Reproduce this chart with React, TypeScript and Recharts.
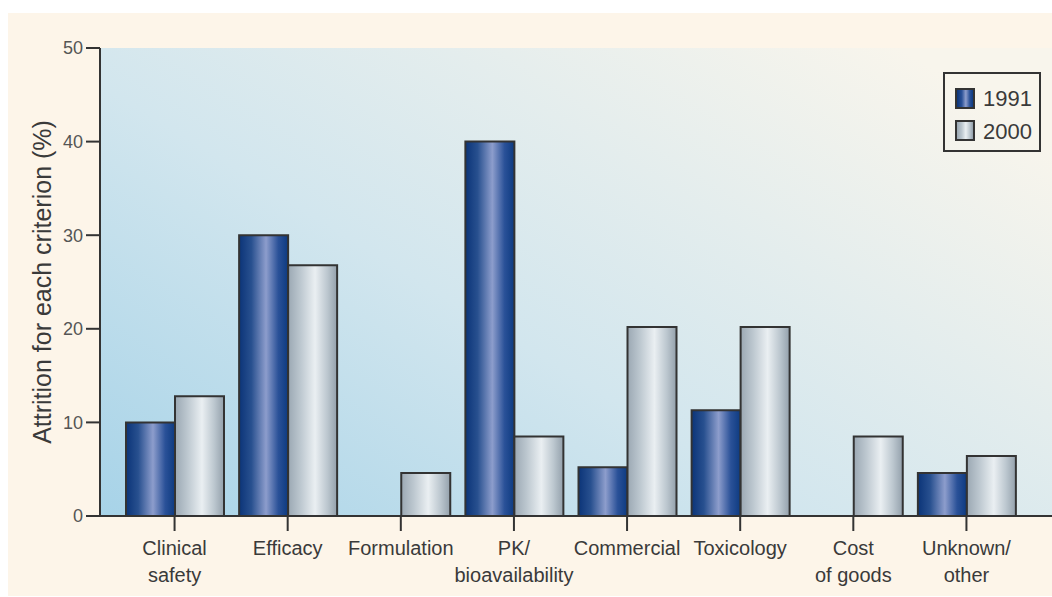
import React from 'react';
import { BarChart, Bar, XAxis, YAxis, CartesianGrid } from 'recharts';

const categories = [
  'Clinical\nsafety',
  'Efficacy',
  'Formulation',
  'PK/\nbioavailability',
  'Commercial',
  'Toxicology',
  'Cost\nof goods',
  'Unknown/\nother',
];
const values1991 = [10, 30, 0, 40, 5.2, 11.3, 0, 4.6];
const values2000 = [12.8, 26.8, 4.6, 8.5, 20.2, 20.2, 8.5, 6.4];
const yTicks = [0, 10, 20, 30, 40, 50];

const data = categories.map((name, i) => ({
  name,
  y1991: values1991[i],
  y2000: values2000[i],
}));

const FONT = '"Liberation Sans", Arial, Helvetica, sans-serif';
const INK = '#333333';

const CategoryTick = (props: any) => {
  const { x, y, payload } = props;
  const lines = String(payload.value).split('\n');
  return (
    <g>
      {lines.map((line, i) => (
        <text
          key={i}
          x={x}
          y={y}
          dy={22 + i * 27}
          textAnchor="middle"
          fill="#3a3a3a"
          fontSize={20}
          fontFamily={FONT}
        >
          {line}
        </text>
      ))}
    </g>
  );
};

const swatch = (bg: string): React.CSSProperties => ({
  display: 'inline-block',
  width: 16,
  height: 17,
  border: `2px solid ${INK}`,
  background: bg,
  marginRight: 8,
  verticalAlign: 'middle',
});

const grad1991 =
  'linear-gradient(to right, #0b3478, #2a5198 30%, #8d9dcc 55%, #2a5198 80%, #0d3a80)';
const grad2000 =
  'linear-gradient(to right, #9ba8b3, #bcc7cf 30%, #eaeff2 55%, #bcc7cf 80%, #93a0ab)';

const App: React.FC = () => {
  return (
    <>
      <style>{'html,body{margin:0;padding:0;overflow:hidden;background:#fff}'}</style>
      <div
        style={{
          position: 'relative',
          width: 1044,
          height: 583,
          marginLeft: 8,
          marginTop: 13,
          background: '#fdf5e9',
          fontFamily: FONT,
        }}
      >
        <BarChart
          width={1044}
          height={583}
          data={data}
          margin={{ top: 35, right: 0, left: 0, bottom: 0 }}
          barGap={0}
        >
          <defs>
            <linearGradient id="plotBg" x1="0" y1="1" x2="1" y2="0.2">
              <stop offset="0%" stopColor="#a7d3e8" />
              <stop offset="45%" stopColor="#d2e6ee" />
              <stop offset="100%" stopColor="#f8f5ec" />
            </linearGradient>
            <linearGradient id="bar1991" x1="0" y1="0" x2="1" y2="0">
              <stop offset="0%" stopColor="#0b3478" />
              <stop offset="25%" stopColor="#28508f" />
              <stop offset="55%" stopColor="#8d9dcc" />
              <stop offset="80%" stopColor="#2a5198" />
              <stop offset="100%" stopColor="#0d3a80" />
            </linearGradient>
            <linearGradient id="bar2000" x1="0" y1="0" x2="1" y2="0">
              <stop offset="0%" stopColor="#9ba8b3" />
              <stop offset="25%" stopColor="#bcc7cf" />
              <stop offset="55%" stopColor="#eaeff2" />
              <stop offset="80%" stopColor="#bcc7cf" />
              <stop offset="100%" stopColor="#93a0ab" />
            </linearGradient>
          </defs>
          <CartesianGrid
            horizontal={false}
            vertical={false}
            fill="url(#plotBg)"
            fillOpacity={1}
          />
          <XAxis
            dataKey="name"
            height={80}
            interval={0}
            padding={{ left: 18, right: 29 }}
            axisLine={{ stroke: INK, strokeWidth: 2 }}
            tickLine={{ stroke: INK, strokeWidth: 2 }}
            tickSize={15}
            tickMargin={2}
            tick={<CategoryTick />}
          />
          <YAxis
            width={92}
            domain={[0, 50]}
            ticks={yTicks}
            interval={0}
            axisLine={{ stroke: INK, strokeWidth: 2 }}
            tickLine={{ stroke: INK, strokeWidth: 2 }}
            tickSize={14}
            tickMargin={3}
            tick={{ fill: '#555', fontSize: 18, fontFamily: FONT }}
            label={{
              value: 'Attrition for each criterion (%)',
              angle: -90,
              position: 'insideLeft',
              offset: 34,
              style: { textAnchor: 'middle', fill: '#3a3a3a', fontSize: 25, fontFamily: FONT },
            }}
          />
          <Bar
            dataKey="y1991"
            name="1991"
            barSize={49}
            fill="url(#bar1991)"
            stroke={INK}
            strokeWidth={2}
            isAnimationActive={false}
          />
          <Bar
            dataKey="y2000"
            name="2000"
            barSize={49}
            fill="url(#bar2000)"
            stroke={INK}
            strokeWidth={2}
            isAnimationActive={false}
          />
        </BarChart>
        <div
          style={{
            position: 'absolute',
            left: 935,
            top: 59,
            width: 94,
            height: 76,
            border: `2px solid ${INK}`,
            boxSizing: 'content-box',
            color: '#3a3a3a',
            fontSize: 22,
            lineHeight: '31px',
          }}
        >
          <div style={{ marginLeft: 10, marginTop: 7 }}>
            <span style={swatch(grad1991)} />
            <span style={{ verticalAlign: 'middle' }}>1991</span>
          </div>
          <div style={{ marginLeft: 10 }}>
            <span style={swatch(grad2000)} />
            <span style={{ verticalAlign: 'middle' }}>2000</span>
          </div>
        </div>
      </div>
    </>
  );
};

export default App;
